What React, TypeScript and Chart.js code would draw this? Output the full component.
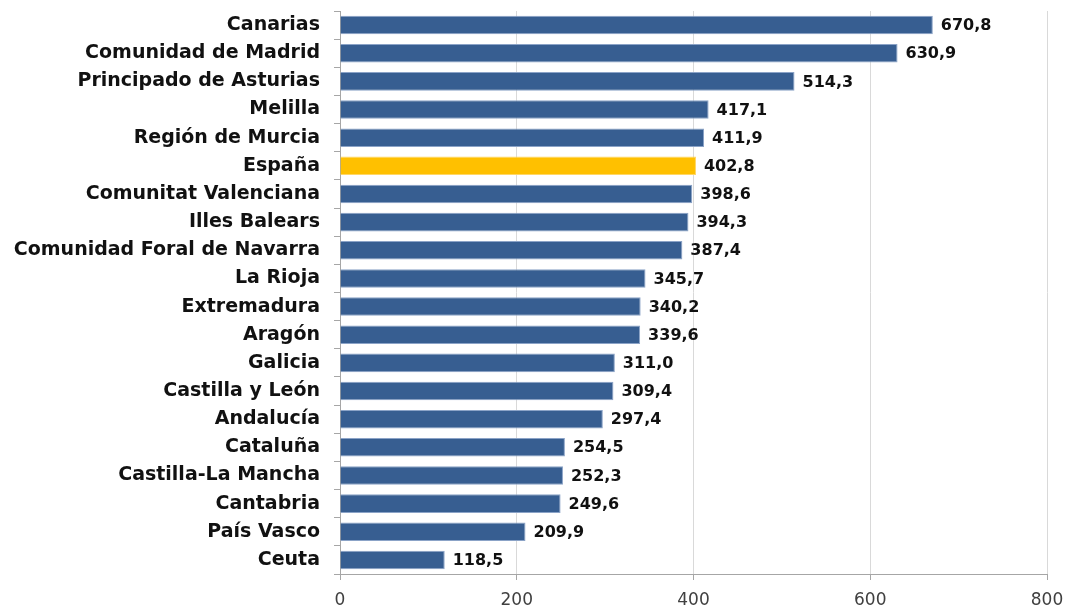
import React, { useEffect, useRef } from "react";
import { Chart, registerables } from "chart.js";

Chart.register(...registerables);

const categories = [
  "Canarias",
  "Comunidad de Madrid",
  "Principado de Asturias",
  "Melilla",
  "Región de Murcia",
  "España",
  "Comunitat Valenciana",
  "Illes Balears",
  "Comunidad Foral de Navarra",
  "La Rioja",
  "Extremadura",
  "Aragón",
  "Galicia",
  "Castilla y León",
  "Andalucía",
  "Cataluña",
  "Castilla-La Mancha",
  "Cantabria",
  "País Vasco",
  "Ceuta",
];

const values = [
  670.8, 630.9, 514.3, 417.1, 411.9, 402.8, 398.6, 394.3, 387.4, 345.7, 340.2,
  339.6, 311.0, 309.4, 297.4, 254.5, 252.3, 249.6, 209.9, 118.5,
];

const highlight = "España";
const xTicks = [0, 200, 400, 600, 800];

const BLUE = "#375E91";
const BLUE_BORDER = "#8BA3C7";
const YELLOW = "#FFC000";
const YELLOW_BORDER = "#FFD766";
const FONT = "'DejaVu Sans', sans-serif";

const valueLabels = {
  id: "valueLabels",
  afterDatasetsDraw(chart: any) {
    const ctx = chart.ctx;
    const meta = chart.getDatasetMeta(0);
    ctx.save();
    ctx.font = `bold 16px ${FONT}`;
    ctx.fillStyle = "#111111";
    ctx.textAlign = "left";
    ctx.textBaseline = "middle";
    meta.data.forEach((bar: any, i: number) => {
      const txt = values[i].toFixed(1).replace(".", ",");
      ctx.fillText(txt, bar.x + 8, bar.y + 1);
    });
    ctx.restore();
  },
};

export default function App() {
  const ref = useRef<HTMLCanvasElement>(null);
  useEffect(() => {
    document.body.style.margin = "0";
    const chart = new Chart(ref.current!, {
      type: "bar",
      data: {
        labels: categories,
        datasets: [
          {
            data: values,
            backgroundColor: categories.map((c) => (c === highlight ? YELLOW : BLUE)),
            borderColor: categories.map((c) => (c === highlight ? YELLOW_BORDER : BLUE_BORDER)),
            borderWidth: 1,
            categoryPercentage: 1,
            barPercentage: 0.66,
          },
        ],
      },
      options: {
        indexAxis: "y",
        animation: false,
        responsive: false,
        maintainAspectRatio: false,
        layout: { padding: { top: 11, right: 20, left: 0, bottom: 0 } },
        plugins: { legend: { display: false }, tooltip: { enabled: false } },
        scales: {
          x: {
            min: 0,
            max: 800,
            afterBuildTicks: (scale: any) => {
              scale.ticks = xTicks.map((v) => ({ value: v }));
            },
            ticks: {
              color: "#404040",
              font: { family: FONT, size: 17 },
              padding: 10,
            },
            grid: {
              color: "#D9D9D9",
              drawTicks: true,
              tickLength: 6,
              tickColor: "#A6A6A6",
            },
            border: { color: "#A6A6A6" },
            afterFit: (scale: any) => {
              scale.height = 34;
              scale.paddingLeft = 0;
              scale.paddingRight = 0;
            },
          },
          y: {
            grid: {
              display: true,
              offset: true,
              drawOnChartArea: false,
              tickLength: 6,
              tickColor: "#A6A6A6",
            },
            border: { color: "#A6A6A6" },
            ticks: {
              color: "#111111",
              font: { family: FONT, size: 19, weight: "bold" },
              padding: 14,
            },
            afterFit: (scale: any) => {
              scale.width = 340;
              scale.paddingTop = 0;
              scale.paddingBottom = 0;
            },
          },
        },
      },
      plugins: [valueLabels],
    });
    return () => chart.destroy();
  }, []);
  return (
    <div style={{ width: 1067, height: 608 }}>
      <canvas ref={ref} width={1067} height={608} style={{ display: "block" }} />
    </div>
  );
}
